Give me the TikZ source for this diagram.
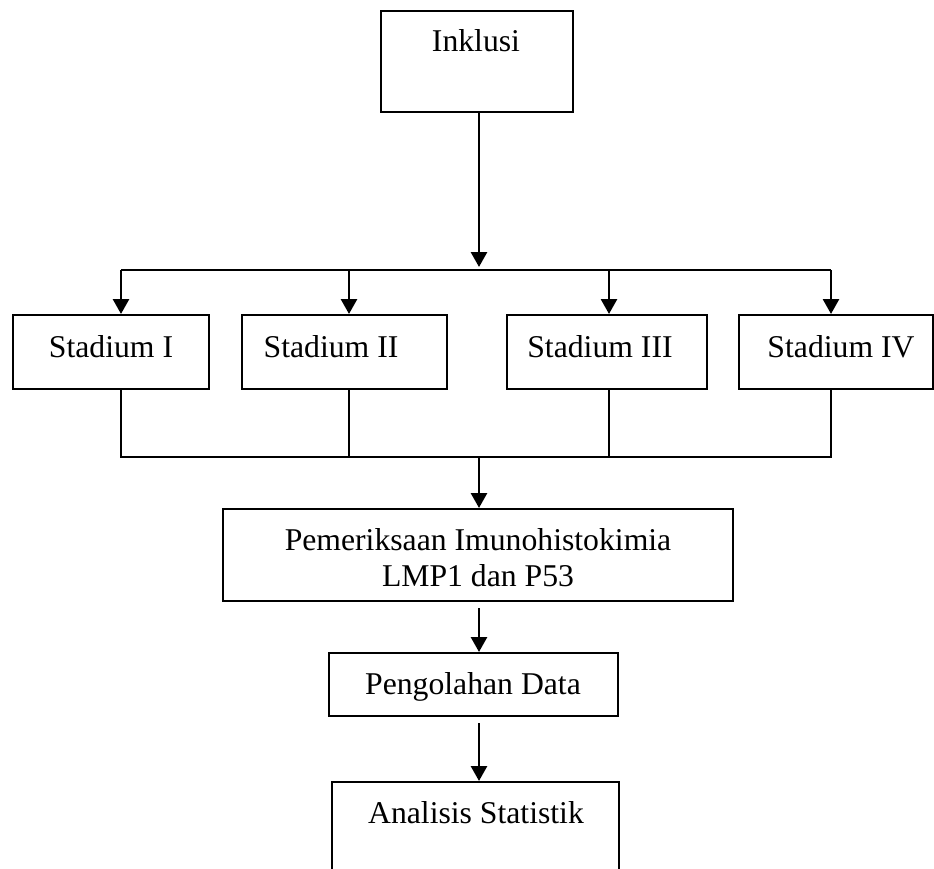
\documentclass[tikz,border=0pt]{standalone}
\usepackage{fontspec}
\setmainfont{Liberation Serif}
\usetikzlibrary{arrows.meta}
\begin{document}
\begin{tikzpicture}[x=1pt,y=-1pt,
  box/.style={draw, line width=2pt, rectangle, inner sep=0pt},
  txt/.style={font=\fontsize{31.7}{36}\selectfont, inner sep=0pt, anchor=base},
  conn/.style={line width=2.8pt},
  thin/.style={line width=2.1pt},
  arr/.style={conn, -{Triangle[width=16pt,length=15pt]}}]
\useasboundingbox (0,0) rectangle (934,869);
\clip (0,0) rectangle (934,869);

% boxes
\node[box, minimum width=192pt, minimum height=101pt] (inkl) at (477,61.5) {};
\node[box, minimum width=196pt, minimum height=74pt] (s1) at (111,352) {};
\node[box, minimum width=205pt, minimum height=74pt] (s2) at (344.5,352) {};
\node[box, minimum width=200pt, minimum height=74pt] (s3) at (607,352) {};
\node[box, minimum width=194pt, minimum height=74pt] (s4) at (836,352) {};
\node[box, minimum width=510pt, minimum height=92pt] (pem) at (478,555) {};
\node[box, minimum width=289pt, minimum height=63pt] (peng) at (473.5,684.5) {};
\node[box, minimum width=287pt, minimum height=118pt] (ana) at (475.5,841) {};

% texts
\node[txt] (inklt) at (476,52) {Inklusi};
\node[txt] (s1t) at (111,357) {Stadium I};
\node[txt] (s2t) at (331,357) {Stadium II};
\node[txt] (s3t) at (600,357) {Stadium III};
\node[txt] (s4t) at (841,357) {Stadium IV};
\node[txt] (pemt1) at (478,550) {Pemeriksaan Imunohistokimia};
\node[txt] (pemt2) at (478,586) {LMP1 dan P53};
\node[txt] (pengt) at (473,694) {Pengolahan Data};
\node[txt] (anat) at (476,823) {Analisis Statistik};

% coordinates
\coordinate (splitT) at (479,267);
\coordinate (tl) at (121,270);
\coordinate (t2) at (349,270);
\coordinate (t3) at (609,270);
\coordinate (tr) at (831,270);
\coordinate (bl) at (121,457);
\coordinate (b2) at (349,457);
\coordinate (b3) at (609,457);
\coordinate (br) at (831,457);
\coordinate (bm) at (479,457);

% connectors
\draw[arr] (inkl.south -| splitT) -- (splitT);
\draw[conn] (tl) -- (tr);
\draw[arr] (tl) -- (s1.north -| tl);
\draw[arr] (t2) -- (s2.north -| t2);
\draw[arr] (t3) -- (s3.north -| t3);
\draw[arr] (tr) -- (s4.north -| tr);

\draw[thin] (s1.south -| bl) -- (bl) -- (br) -- (s4.south -| br);
\draw[thin] (s2.south -| b2) -- (b2);
\draw[thin] (s3.south -| b3) -- (b3);

\draw[arr] (bm) -- (pem.north -| bm);
\draw[arr] ([yshift=-6pt]pem.south -| bm) -- (peng.north -| bm);
\draw[arr] ([yshift=-6pt]peng.south -| bm) -- (ana.north -| bm);
\end{tikzpicture}
\end{document}
